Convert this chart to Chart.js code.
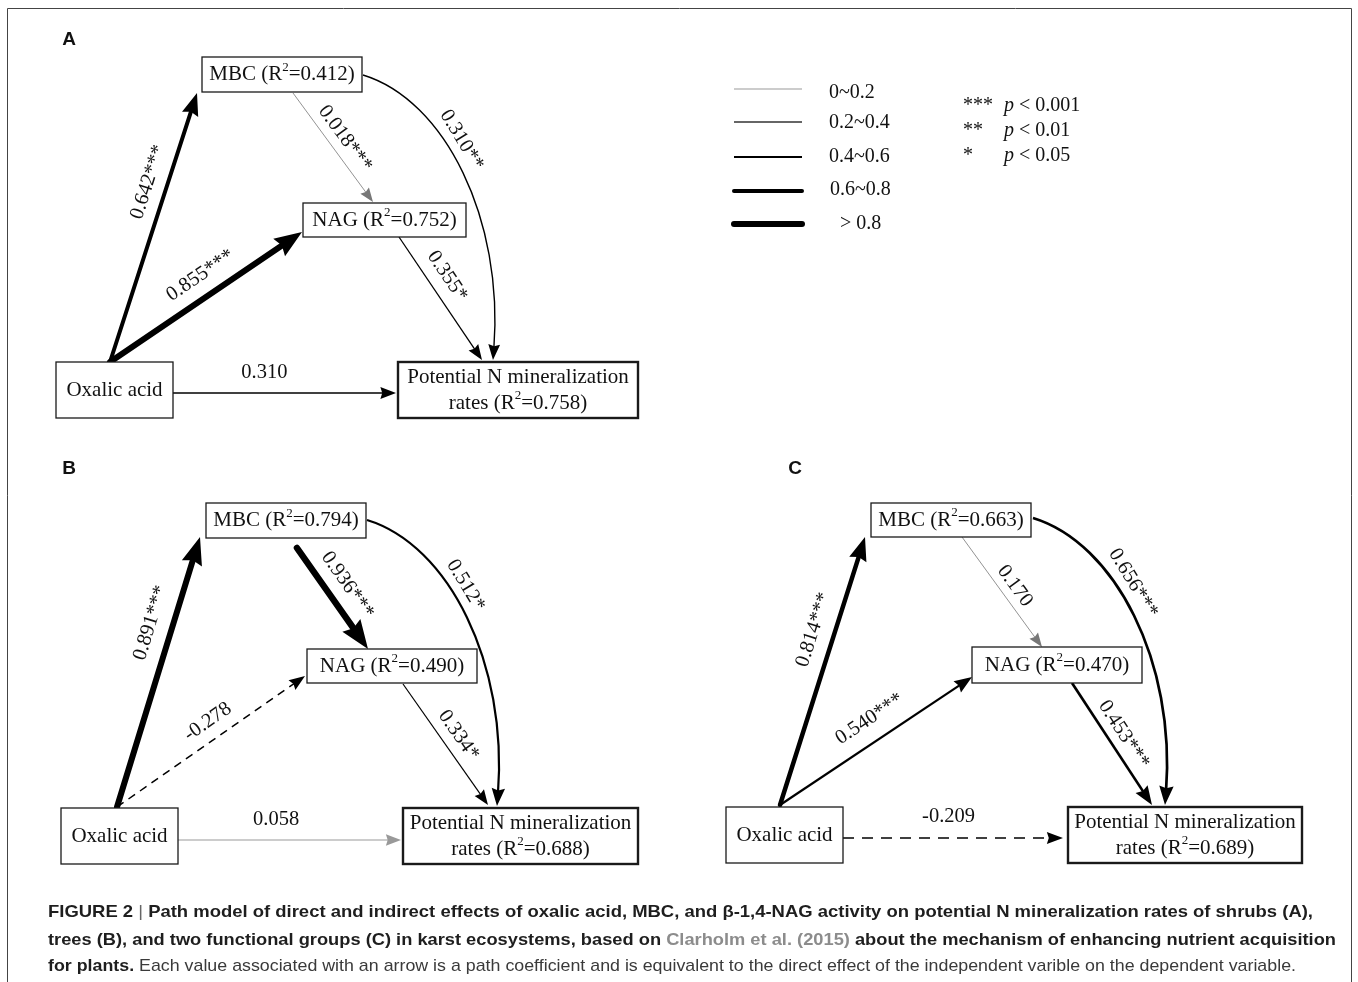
<!DOCTYPE html>
<html><head><meta charset="utf-8">
<script src="https://cdn.jsdelivr.net/npm/chart.js@4.4.1/dist/chart.umd.min.js"></script>
<style>html,body{margin:0;padding:0;background:#fff;}#wrap{width:1358px;height:982px;}</style>
</head><body><div id="wrap"><canvas id="c" width="1358" height="982"></canvas></div>
<script>
// ---------------- DATA ----------------
const panels = ['A', 'B', 'C'];
const nodeNames = ['MBC', 'NAG', 'Oxalic acid', 'Potential N mineralization', 'rates'];
const r2MBC = [0.412, 0.794, 0.663];
const r2NAG = [0.752, 0.490, 0.470];
const r2PNM = [0.758, 0.688, 0.689];
// path order: Oxalic->MBC, Oxalic->NAG, MBC->NAG, MBC->PNM, NAG->PNM, Oxalic->PNM
const coefA = [0.642, 0.855, 0.018, 0.310, 0.355, 0.310];
const coefB = [0.891, -0.278, 0.936, 0.512, 0.334, 0.058];
const coefC = [0.814, 0.540, 0.170, 0.656, 0.453, -0.209];
const sigA = ['***', '***', '***', '**', '*', ''];
const sigB = ['***', '', '***', '*', '*', ''];
const sigC = ['***', '***', '', '***', '***', ''];
const widthClasses = ['0~0.2', '0.2~0.4', '0.4~0.6', '0.6~0.8', '> 0.8'];
const sigSymbols = ['***', '**', '*'];
const sigLevels = ['0.001', '0.01', '0.05'];

const coefs = [coefA, coefB, coefC];
const sigs = [sigA, sigB, sigC];

// ---------------- LAYOUT (positions / styles, in axis units) ----------------
const LAYOUT = [
  { letter: [69, 40],
    box: { MBC: [202, 57, 362, 92], NAG: [303, 203, 466, 237], OX: [56, 362, 173, 418], PNM: [398, 362, 638, 418] },
    edges: [
      { a: [110, 362], b: [197, 93], w: 4, t: 0.647, off: 19 },
      { a: [110, 362], b: [302, 232], w: 6, t: 0.532, off: 21 },
      { a: [293, 93], b: [373, 202], w: 0.8, col: '#777', t: 0.5, off: 15 },
      { a: [363, 75], b: [493, 360], w: 1.4, curve: true, t: 0.4, off: 17 },
      { a: [399, 237], b: [482, 360], w: 1.3, t: 0.4, off: 18 },
      { a: [173, 393], b: [396, 393], w: 1.4, t: 0.41, off: 20 }
    ] },
  { letter: [69, 469],
    box: { MBC: [206, 503, 366, 538], NAG: [307, 649, 477, 683], OX: [61, 808, 178, 864], PNM: [403, 808, 638, 864] },
    edges: [
      { a: [117, 807], b: [200, 537], w: 6, t: 0.658, off: 22 },
      { a: [117, 807], b: [305, 676], w: 1.5, dash: [8, 6], t: 0.538, off: 18 },
      { a: [297, 548], b: [368, 649], w: 6.5, t: 0.48, off: 20 },
      { a: [367, 520], b: [497, 806], w: 2.2, curve: true, t: 0.4, off: 17 },
      { a: [403, 684], b: [488, 805], w: 1.2, t: 0.5, off: 16 },
      { a: [178, 840], b: [401, 840], w: 1.2, col: '#999', t: 0.44, off: 20 }
    ] },
  { letter: [795, 469],
    box: { MBC: [871, 503, 1031, 537], NAG: [972, 647, 1142, 683], OX: [726, 807, 843, 863], PNM: [1068, 807, 1302, 863] },
    edges: [
      { a: [780, 805], b: [865, 537], w: 4.5, t: 0.63, off: 21 },
      { a: [780, 805], b: [972, 677], w: 2.2, t: 0.53, off: 22 },
      { a: [962, 537], b: [1042, 647], w: 0.8, col: '#777', t: 0.52, off: 14 },
      { a: [1033, 518], b: [1165, 805], w: 2.7, curve: true, t: 0.4, off: 18 },
      { a: [1072, 683], b: [1152, 805], w: 2.7, t: 0.49, off: 15 },
      { a: [843, 838], b: [1063, 838], w: 1.6, dash: [11, 8], t: 0.48, off: 21 }
    ] }
];
const LEGEND = { x0: 734, x1: 802, ys: [89, 122, 157, 191, 224], widths: [1, 1.4, 2.2, 4, 6],
  colors: ['#999', '#333', '#000', '#000', '#000'], labelX: [829, 829, 829, 830, 840], labelY: [93, 123, 157, 190, 224],
  sigX: 963, pX: 1004, sigY: [106, 131, 156] };

const CAPTION = [
  { y: 912, w: 1265, segs: [['b', 'FIGURE 2 '], ['sep', '|'], ['b', ' Path model of direct and indirect effects of oxalic acid, MBC, and \u03b2-1,4-NAG activity on potential N mineralization rates of shrubs (A),']] },
  { y: 940, w: 1288, segs: [['b', 'trees (B), and two functional groups (C) in karst ecosystems, based on '], ['link', 'Clarholm et al. (2015)'], ['b', ' about the mechanism of enhancing nutrient acquisition']] },
  { y: 966, w: 1248, segs: [['b', 'for plants.'], ['n', ' Each value associated with an arrow is a path coefficient and is equivalent to the direct effect of the independent varible on the dependent variable.']] }
];

const SERIF = '"Liberation Serif", "Times New Roman", serif';
const SANS = '"Liberation Sans", Arial, sans-serif';

// ---------------- helpers ----------------
function px(chart, p) { return [chart.scales.x.getPixelForValue(p[0]), chart.scales.y.getPixelForValue(p[1])]; }
function norm(v) { const l = Math.hypot(v[0], v[1]); return [v[0] / l, v[1] / l]; }
function bez(p0, p1, p2, p3, t) {
  const m = 1 - t;
  return [m*m*m*p0[0] + 3*m*m*t*p1[0] + 3*m*t*t*p2[0] + t*t*t*p3[0],
          m*m*m*p0[1] + 3*m*m*t*p1[1] + 3*m*t*t*p2[1] + t*t*t*p3[1]];
}
function bezD(p0, p1, p2, p3, t) {
  const m = 1 - t;
  return [3*(m*m*(p1[0]-p0[0]) + 2*m*t*(p2[0]-p1[0]) + t*t*(p3[0]-p2[0])),
          3*(m*m*(p1[1]-p0[1]) + 2*m*t*(p2[1]-p1[1]) + t*t*(p3[1]-p2[1]))];
}
function head(ctx, tip, u, hl, hw, col) {
  const bx = tip[0] - u[0] * hl, by = tip[1] - u[1] * hl;
  ctx.beginPath();
  ctx.moveTo(tip[0], tip[1]);
  ctx.lineTo(bx - u[1] * hw / 2, by + u[0] * hw / 2);
  ctx.lineTo(bx + u[0] * hl * 0.12 + u[1] * 0, by + u[1] * hl * 0.12);
  ctx.lineTo(bx + u[1] * hw / 2, by - u[0] * hw / 2);
  ctx.closePath();
  ctx.fillStyle = col; ctx.fill();
}
function richWidth(ctx, segs, size) {
  let w = 0;
  segs.forEach(s => { ctx.font = (s.sup ? Math.round(size * 0.62) : size) + 'px ' + SERIF; w += ctx.measureText(s.t).width; });
  return w;
}
function drawRich(ctx, segs, cx, cy, size) {
  const w = richWidth(ctx, segs, size);
  let x = cx - w / 2;
  ctx.textBaseline = 'middle'; ctx.textAlign = 'left'; ctx.fillStyle = '#111';
  segs.forEach(s => {
    const fs = s.sup ? Math.round(size * 0.62) : size;
    ctx.font = fs + 'px ' + SERIF;
    ctx.fillText(s.t, x, s.sup ? cy - size * 0.33 : cy);
    x += ctx.measureText(s.t).width;
  });
}
function r2Segs(name, v) { return [{ t: name + ' (R' }, { t: '2', sup: true }, { t: '=' + v.toFixed(3) + ')' }]; }

const diagram = {
  id: 'pathDiagram',
  afterDatasetsDraw(chart) {
    const ctx = chart.ctx;
    ctx.save();
    // frame
    ctx.strokeStyle = '#444'; ctx.lineWidth = 1;
    const f0 = px(chart, [7.5, 982]), f1 = px(chart, [7.5, 8.5]), f2 = px(chart, [1351.5, 8.5]), f3 = px(chart, [1351.5, 982]);
    ctx.beginPath(); ctx.moveTo(f0[0], f0[1]); ctx.lineTo(f1[0], f1[1]); ctx.lineTo(f2[0], f2[1]); ctx.lineTo(f3[0], f3[1]); ctx.stroke();

    panels.forEach((pn, pi) => {
      const L = LAYOUT[pi];
      // panel letter
      const lp = px(chart, L.letter);
      ctx.font = 'bold 19px ' + SANS; ctx.fillStyle = '#111'; ctx.textAlign = 'center'; ctx.textBaseline = 'middle';
      ctx.fillText(pn, lp[0], lp[1]);

      // edges
      L.edges.forEach((e, ei) => {
        const c = coefs[pi][ei];
        const col = e.col || '#000';
        const hl = 12 + 2.6 * e.w, hw = 9 + 2 * e.w;
        const a = px(chart, e.a), b = px(chart, e.b);
        ctx.strokeStyle = col; ctx.lineWidth = e.w;
        ctx.lineCap = e.w >= 4 ? 'round' : 'butt';
        ctx.setLineDash(e.dash || []);
        let lab, tan;
        if (e.curve) {
          const p1 = px(chart, [e.a[0] + 82, e.a[1] + 25]);
          const p2 = px(chart, [e.b[0] + 10, e.b[1] - 130]);
          const ue = norm([b[0] - p2[0], b[1] - p2[1]]);
          const sh = hl * 0.7;
          const b2 = [b[0] - ue[0] * sh, b[1] - ue[1] * sh], p22 = [p2[0] - ue[0] * sh, p2[1] - ue[1] * sh];
          ctx.beginPath(); ctx.moveTo(a[0], a[1]); ctx.bezierCurveTo(p1[0], p1[1], p22[0], p22[1], b2[0], b2[1]); ctx.stroke();
          ctx.setLineDash([]);
          head(ctx, b, ue, hl, hw, col);
          lab = bez(a, p1, p2, b, e.t); tan = norm(bezD(a, p1, p2, b, e.t));
        } else {
          const u = norm([b[0] - a[0], b[1] - a[1]]);
          const sh = hl * 0.7;
          ctx.beginPath(); ctx.moveTo(a[0], a[1]); ctx.lineTo(b[0] - u[0] * sh, b[1] - u[1] * sh); ctx.stroke();
          ctx.setLineDash([]);
          head(ctx, b, u, hl, hw, col);
          lab = [a[0] + (b[0] - a[0]) * e.t, a[1] + (b[1] - a[1]) * e.t]; tan = u;
        }
        const n = [tan[1], -tan[0]];
        const lx = lab[0] + n[0] * e.off, ly = lab[1] + n[1] * e.off;
        let ang = Math.atan2(tan[1], tan[0]);
        if (ang > Math.PI / 2) ang -= Math.PI; if (ang < -Math.PI / 2) ang += Math.PI;
        ctx.save(); ctx.translate(lx, ly); ctx.rotate(ang);
        ctx.font = '20.5px ' + SERIF; ctx.fillStyle = '#111'; ctx.textAlign = 'center'; ctx.textBaseline = 'middle';
        ctx.fillText(c.toFixed(3) + sigs[pi][ei], 0, 0);
        ctx.restore();
      });

      // boxes
      const bx = L.box;
      [['MBC', r2Segs(nodeNames[0], r2MBC[pi])], ['NAG', r2Segs(nodeNames[1], r2NAG[pi])], ['OX', null], ['PNM', null]].forEach(([k, segs]) => {
        const r = bx[k];
        const p0 = px(chart, [r[0], r[1]]), p1 = px(chart, [r[2], r[3]]);
        ctx.fillStyle = '#fff'; ctx.fillRect(p0[0], p0[1], p1[0] - p0[0], p1[1] - p0[1]);
        ctx.strokeStyle = '#1a1a1a'; ctx.lineWidth = k === 'PNM' ? 2.4 : 1.3;
        ctx.strokeRect(p0[0], p0[1], p1[0] - p0[0], p1[1] - p0[1]);
        const cx = (p0[0] + p1[0]) / 2, cy = (p0[1] + p1[1]) / 2;
        if (segs) drawRich(ctx, segs, cx, cy, 21);
        else if (k === 'OX') drawRich(ctx, [{ t: nodeNames[2] }], cx, cy, 21);
        else {
          drawRich(ctx, [{ t: nodeNames[3] }], cx, cy - 13, 21);
          drawRich(ctx, r2Segs(nodeNames[4], r2PNM[pi]), cx, cy + 13, 21);
        }
      });
    });

    // width legend
    widthClasses.forEach((lbl, i) => {
      const a = px(chart, [LEGEND.x0, LEGEND.ys[i]]), b = px(chart, [LEGEND.x1, LEGEND.ys[i]]);
      ctx.strokeStyle = LEGEND.colors[i]; ctx.lineWidth = LEGEND.widths[i]; ctx.lineCap = i >= 3 ? 'round' : 'butt';
      ctx.beginPath(); ctx.moveTo(a[0], a[1]); ctx.lineTo(b[0], b[1]); ctx.stroke();
      const t = px(chart, [LEGEND.labelX[i], LEGEND.labelY[i]]);
      ctx.font = '20px ' + SERIF; ctx.fillStyle = '#111'; ctx.textAlign = 'left'; ctx.textBaseline = 'middle';
      ctx.fillText(lbl, t[0], t[1]);
    });
    // significance legend
    sigSymbols.forEach((s, i) => {
      const p = px(chart, [LEGEND.sigX, LEGEND.sigY[i]]);
      ctx.font = '20px ' + SERIF; ctx.fillStyle = '#111'; ctx.textAlign = 'left'; ctx.textBaseline = 'middle';
      ctx.fillText(s, p[0], p[1]);
      const q = px(chart, [LEGEND.pX, LEGEND.sigY[i]]);
      ctx.font = 'italic 20px ' + SERIF; ctx.fillText('p', q[0], q[1]);
      const pw = ctx.measureText('p').width;
      ctx.font = '20px ' + SERIF; ctx.fillText(' < ' + sigLevels[i], q[0] + pw, q[1]);
    });

    // caption
    const fonts = { b: 'bold 17px ' + SANS, link: 'bold 17px ' + SANS, n: '17px ' + SANS, sep: '17px ' + SANS };
    const colors = { b: '#1e1e1e', link: '#8c8c8c', n: '#3a3a3a', sep: '#666' };
    CAPTION.forEach(line => {
      let w = 0;
      line.segs.forEach(([k, t]) => { ctx.font = fonts[k]; w += ctx.measureText(t).width; });
      const o = px(chart, [48, line.y]);
      ctx.save(); ctx.translate(o[0], o[1]); ctx.scale(line.w / w, 1);
      let x = 0;
      ctx.textAlign = 'left'; ctx.textBaseline = 'middle';
      line.segs.forEach(([k, t]) => { ctx.font = fonts[k]; ctx.fillStyle = colors[k]; ctx.fillText(t, x, 0); x += ctx.measureText(t).width; });
      ctx.restore();
    });
    ctx.restore();
  }
};

new Chart(document.getElementById('c').getContext('2d'), {
  type: 'scatter',
  data: { datasets: [{ data: [], pointRadius: 0 }] },
  options: {
    responsive: false, animation: false, devicePixelRatio: 1,
    layout: { padding: 0 },
    plugins: { legend: { display: false }, tooltip: { enabled: false } },
    scales: {
      x: { type: 'linear', min: 0, max: 1358, display: false },
      y: { type: 'linear', min: 0, max: 982, reverse: true, display: false }
    }
  },
  plugins: [diagram]
});
</script></body></html>
